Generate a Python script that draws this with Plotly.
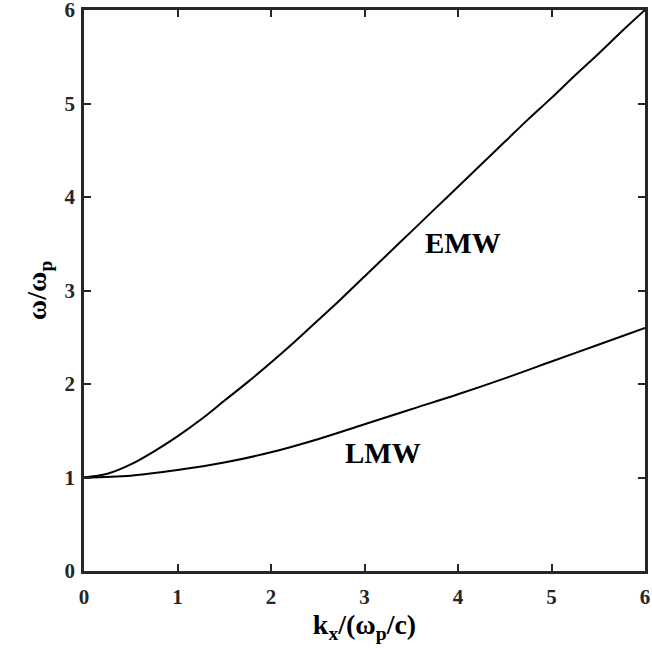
import plotly.graph_objects as go

k_emw = [0, 0.25, 0.5, 0.75, 1, 1.25, 1.5, 1.75, 2, 2.25, 2.5, 2.75, 3, 3.25, 3.5,
         3.75, 4, 4.25, 4.5, 4.75, 5, 5.25, 5.5, 5.75, 6]
w_emw = [1.00, 1.04, 1.14, 1.28, 1.44, 1.62, 1.82, 2.02, 2.23, 2.45, 2.68, 2.91, 3.15, 3.39, 3.63,
         3.87, 4.11, 4.35, 4.59, 4.83, 5.06, 5.30, 5.53, 5.77, 6.00]

k_lmw = [0, 0.5, 1, 1.5, 2, 2.5, 3, 3.5, 4, 4.5, 5, 5.5, 6]
w_lmw = [1.00, 1.02, 1.08, 1.16, 1.27, 1.41, 1.57, 1.73, 1.89, 2.06, 2.24, 2.42, 2.60]

labels = ["EMW", "LMW"]
label_k = [4.05, 3.20]
label_w = [3.51, 1.26]

ticks = [0, 1, 2, 3, 4, 5, 6]

FONT = "Liberation Serif, Times New Roman, serif"

fig = go.Figure()
fig.add_trace(go.Scatter(x=k_emw, y=w_emw, mode="lines",
                         line=dict(color="black", width=2, shape="spline", smoothing=1),
                         showlegend=False))
fig.add_trace(go.Scatter(x=k_lmw, y=w_lmw, mode="lines",
                         line=dict(color="black", width=2, shape="spline", smoothing=1),
                         showlegend=False))

for t, x, y in zip(labels, label_k, label_w):
    fig.add_annotation(x=x, y=y, text="<b>" + t + "</b>", showarrow=False,
                       font=dict(family=FONT, size=29, color="black"))

axis_common = dict(
    range=[0, 6], tickvals=ticks, ticktext=["<b>%d</b>" % t for t in ticks],
    ticks="inside", ticklen=7, tickwidth=2, tickcolor="#262626",
    showline=True, linewidth=2.5, linecolor="#262626", mirror="ticks",
    showgrid=False, zeroline=False, ticklabeloverflow="allow", automargin=False,
    tickfont=dict(family=FONT, size=21, color="#262626"),
)

fig.update_layout(
    width=652, height=648,
    margin=dict(l=84, r=7, t=10, b=77),
    paper_bgcolor="white", plot_bgcolor="white",
    xaxis=dict(**axis_common, ticklabelstandoff=5,
               title=dict(text="<b>k<sub>x</sub>/(ω<sub>p</sub>/c)</b>", standoff=6,
                          font=dict(family=FONT, size=28, color="black"))),
    yaxis=dict(**axis_common, ticklabelstandoff=2,
               title=dict(text="<b>ω/ω<sub>p</sub></b>", standoff=10,
                          font=dict(family=FONT, size=28, color="black"))),
)

fig.write_html("out.html")
